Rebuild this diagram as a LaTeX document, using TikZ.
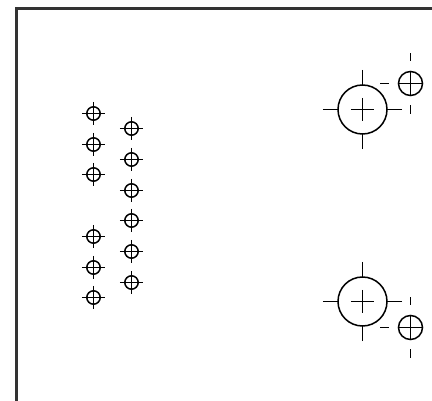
\documentclass[tikz,border=0pt]{standalone}
\tikzset{
  ink/.style={draw=black,line width=1.5pt,line cap=butt},
  frameline/.style={draw=black!80,line width=2.05pt},
  pics/target/.style={code={
    \draw[ink] (0,0) circle[radius=6.7];
    \draw[ink] (-11.7,0) -- (11.7,0);
    \draw[ink] (0,-11.7) -- (0,11.7);
  }},
  pics/bigtarget/.style={code={
    \draw[ink] (0,0) circle[radius=24.5];
    \draw[ink] (-11.7,0) -- (11.7,0);
    \draw[ink] (0,-11.7) -- (0,11.7);
    \draw[ink] (-39.7,0) -- (-24.5,0);
    \draw[ink] (39.7,0) -- (24.5,0);
    \draw[ink] (0,-39.7) -- (0,-24.5);
    \draw[ink] (0,39.7) -- (0,24.5);
  }},
  pics/smalltarget/.style={code={
    \draw[ink] (0,0) circle[radius=12];
    \draw[ink] (-12,0) -- (12,0);
    \draw[ink] (0,-12) -- (0,12);
    \draw[ink] (-30.3,0) -- (-22,0);
    \draw[ink] (0,-30.3) -- (0,-22);
    \draw[ink] (0,30.3) -- (0,22);
  }}
}
\begin{document}
\begin{tikzpicture}[x=1pt,y=-1pt]
\useasboundingbox (0,0) rectangle (432,401);
\draw[frameline] (432,8.5) -- (16.5,8.5) -- (16.5,401);
\foreach \py in {113.5,144.5,174.5,236.5,267.5,297.5}
  \pic at (93.5,\py) {target};
\foreach \py in {128.5,159.5,190.5,220.5,251.5,282.5}
  \pic at (131.5,\py) {target};
\pic at (362.5,109.5) {bigtarget};
\pic at (362.5,301.5) {bigtarget};
\pic at (410.5,83.5) {smalltarget};
\pic at (410.5,327.5) {smalltarget};
\end{tikzpicture}
\end{document}
